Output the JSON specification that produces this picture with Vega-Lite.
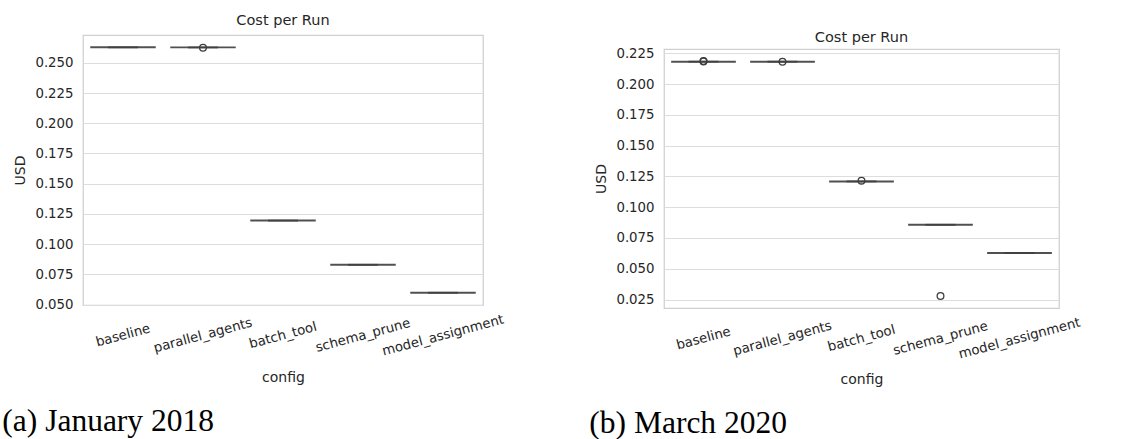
{
  "$schema": "https://vega.github.io/schema/vega-lite/v6.json",
  "padding": {"left": 2, "top": 3, "right": 0, "bottom": 0},
  "background": "white",
  "datasets": {
    "a_box": [
      {"config": "baseline", "q1": 0.2626, "median": 0.2628, "q3": 0.2630},
      {"config": "parallel_agents", "q1": 0.2626, "median": 0.2627, "q3": 0.2629},
      {"config": "batch_tool", "q1": 0.1193, "median": 0.1195, "q3": 0.1197},
      {"config": "schema_prune", "q1": 0.0827, "median": 0.0829, "q3": 0.0831},
      {"config": "model_assignment", "q1": 0.0596, "median": 0.0598, "q3": 0.0600}
    ],
    "a_out": [
      {"config": "parallel_agents", "usd": 0.2624}
    ],
    "b_box": [
      {"config": "baseline", "q1": 0.2181, "median": 0.2183, "q3": 0.2185},
      {"config": "parallel_agents", "q1": 0.2181, "median": 0.2183, "q3": 0.2185},
      {"config": "batch_tool", "q1": 0.1208, "median": 0.1210, "q3": 0.1212},
      {"config": "schema_prune", "q1": 0.0855, "median": 0.0857, "q3": 0.0860},
      {"config": "model_assignment", "q1": 0.0626, "median": 0.0628, "q3": 0.0630}
    ],
    "b_out": [
      {"config": "baseline", "usd": 0.2189},
      {"config": "baseline", "usd": 0.2184},
      {"config": "parallel_agents", "usd": 0.2183},
      {"config": "batch_tool", "usd": 0.1216},
      {"config": "schema_prune", "usd": 0.0278}
    ],
    "spacer": [{"k": 0}]
  },
  "config": {
    "font": "DejaVu Sans",
    "view": {"stroke": "#d0d0d0", "strokeWidth": 1.25},
    "title": {"font": "DejaVu Sans", "fontSize": 14.5, "fontWeight": "normal", "color": "#262626", "offset": 7},
    "axis": {
      "labelFont": "DejaVu Sans", "titleFont": "DejaVu Sans",
      "labelFontSize": 13.3, "titleFontSize": 14, "titleFontWeight": "normal",
      "labelColor": "#262626", "titleColor": "#262626", "labelOverlap": false,
      "ticks": false, "domain": false, "gridColor": "#dddddd", "gridWidth": 1.1
    },
    "axisY": {"grid": true, "labelPadding": 10, "titlePadding": 7, "format": ".3f"},
    "axisX": {"grid": false, "labelAngle": -15, "labelAlign": "center", "labelBaseline": "middle", "labelPadding": 30, "titlePadding": 14},
    "concat": {"spacing": 83}
  },
  "hconcat": [
    {
      "title": {"text": "(a) January 2018", "orient": "bottom", "anchor": "start", "font": "Liberation Serif", "fontSize": 31.5, "color": "#000000", "dx": -11, "offset": 21},
      "spacing": 1,
      "vconcat": [
        {
          "width": 1,
          "height": 1,
          "view": {"stroke": null},
          "data": {"name": "spacer"},
          "mark": {"type": "point", "opacity": 0},
          "encoding": {}
        },
        {
          "width": 400,
          "height": 270,
          "title": "Cost per Run",
          "encoding": {
            "x": {"field": "config", "type": "nominal", "title": "config", "sort": null,
                  "scale": {"domain": ["baseline", "parallel_agents", "batch_tool", "schema_prune", "model_assignment"], "paddingInner": 0, "paddingOuter": 0},
                  "axis": {"titlePadding": 13}}
          },
          "layer": [
            {
              "data": {"name": "a_box"},
              "mark": {"type": "bar", "width": {"band": 0.8}, "fill": "#505050", "stroke": "#505050", "strokeWidth": 1.5},
              "encoding": {
                "y": {"field": "q1", "type": "quantitative", "title": "USD",
                      "scale": {"domain": [0.0497, 0.2730], "nice": false, "zero": false},
                      "axis": {"values": [0.05, 0.075, 0.1, 0.125, 0.15, 0.175, 0.2, 0.225, 0.25], "labelOverlap": false}},
                "y2": {"field": "q3"}
              }
            },
            {
              "data": {"name": "a_box"},
              "mark": {"type": "tick", "size": 30, "thickness": 2, "color": "#3a3a3a"},
              "encoding": {
                "y": {"field": "median", "type": "quantitative", "title": "USD",
                      "scale": {"domain": [0.0497, 0.2730], "nice": false, "zero": false},
                      "axis": {"values": [0.05, 0.075, 0.1, 0.125, 0.15, 0.175, 0.2, 0.225, 0.25], "labelOverlap": false}}
              }
            },
            {
              "data": {"name": "a_out"},
              "mark": {"type": "point", "shape": "circle", "filled": false, "size": 45, "color": "#3d3d3d", "strokeWidth": 1.3, "opacity": 1},
              "encoding": {
                "y": {"field": "usd", "type": "quantitative", "title": "USD",
                      "scale": {"domain": [0.0497, 0.2730], "nice": false, "zero": false},
                      "axis": {"values": [0.05, 0.075, 0.1, 0.125, 0.15, 0.175, 0.2, 0.225, 0.25], "labelOverlap": false}}
              }
            }
          ]
        }
      ]
    },
    {
      "title": {"text": "(b) March 2020", "orient": "bottom", "anchor": "start", "font": "Liberation Serif", "fontSize": 31.5, "color": "#000000", "dx": -5, "offset": 21},
      "spacing": 19,
      "vconcat": [
        {
          "width": 1,
          "height": 1,
          "view": {"stroke": null},
          "data": {"name": "spacer"},
          "mark": {"type": "point", "opacity": 0},
          "encoding": {}
        },
        {
          "width": 395,
          "height": 259,
          "title": {"text": "Cost per Run", "offset": 1},
          "encoding": {
            "x": {"field": "config", "type": "nominal", "title": "config", "sort": null,
                  "scale": {"domain": ["baseline", "parallel_agents", "batch_tool", "schema_prune", "model_assignment"], "paddingInner": 0, "paddingOuter": 0},
                  "axis": {"titlePadding": 12}}
          },
          "layer": [
            {
              "data": {"name": "b_box"},
              "mark": {"type": "bar", "width": {"band": 0.8}, "fill": "#505050", "stroke": "#505050", "strokeWidth": 1.5},
              "encoding": {
                "y": {"field": "q1", "type": "quantitative", "title": "USD",
                      "scale": {"domain": [0.0181, 0.2286], "nice": false, "zero": false},
                      "axis": {"values": [0.025, 0.05, 0.075, 0.1, 0.125, 0.15, 0.175, 0.2, 0.225], "labelOverlap": false}},
                "y2": {"field": "q3"}
              }
            },
            {
              "data": {"name": "b_box"},
              "mark": {"type": "tick", "size": 30, "thickness": 2, "color": "#3a3a3a"},
              "encoding": {
                "y": {"field": "median", "type": "quantitative", "title": "USD",
                      "scale": {"domain": [0.0181, 0.2286], "nice": false, "zero": false},
                      "axis": {"values": [0.025, 0.05, 0.075, 0.1, 0.125, 0.15, 0.175, 0.2, 0.225], "labelOverlap": false}}
              }
            },
            {
              "data": {"name": "b_out"},
              "mark": {"type": "point", "shape": "circle", "filled": false, "size": 45, "color": "#3d3d3d", "strokeWidth": 1.3, "opacity": 1},
              "encoding": {
                "y": {"field": "usd", "type": "quantitative", "title": "USD",
                      "scale": {"domain": [0.0181, 0.2286], "nice": false, "zero": false},
                      "axis": {"values": [0.025, 0.05, 0.075, 0.1, 0.125, 0.15, 0.175, 0.2, 0.225], "labelOverlap": false}}
              }
            }
          ]
        }
      ]
    }
  ]
}
